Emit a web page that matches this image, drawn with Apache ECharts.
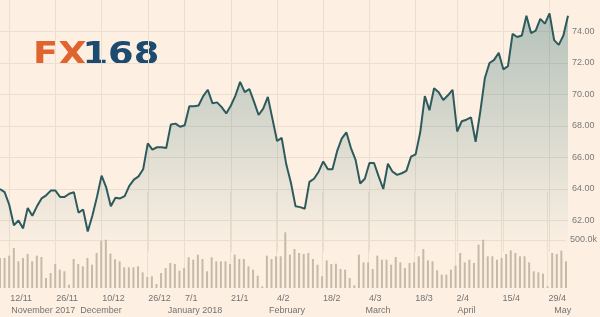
<!DOCTYPE html>
<html><head><meta charset="utf-8">
<script src="https://cdn.jsdelivr.net/npm/echarts@6/dist/echarts.min.js"></script>
<style>html,body{margin:0;padding:0;background:#fdf0e3;}#c{width:600px;height:317px;}</style>
</head><body><div id="c"></div>
<script>
// trading days range (weekdays, minus market holidays)
const startDate = '2017-11-09';
const endDate = '2018-05-04';
const holidays = ['2017-12-25', '2018-01-01', '2018-03-30'];

// daily close
const price = [
  64.0, 63.8, 63.0, 61.7, 62.0, 61.5, 62.8, 62.3, 62.9, 63.4,
  63.6, 63.9, 63.9, 63.5, 63.5, 63.7, 63.8, 62.5, 62.7, 61.3,
  62.3, 63.5, 64.85, 64.1, 62.9, 63.45, 63.4, 63.55, 64.2, 64.6,
  64.8, 65.25, 66.9, 66.5, 66.65, 66.65, 66.6, 68.1, 68.15, 67.95,
  68.05, 69.25, 69.25, 69.3, 69.9, 70.3, 69.45, 69.5, 69.2, 68.8,
  69.3, 69.95, 70.8, 70.15, 70.35, 69.55, 68.7, 69.1, 69.85, 68.45,
  67.05, 67.25, 65.55, 64.4, 62.9, 62.85, 62.75, 64.45, 64.65, 65.1,
  65.75, 65.25, 65.25, 66.4, 67.2, 67.6, 66.6, 65.85, 64.35, 64.65,
  65.65, 65.65, 64.8, 64.0, 65.6, 65.1, 64.9, 65.0, 65.15, 66.05,
  66.2, 67.6, 69.9, 69.0, 70.4, 70.15, 69.65, 69.95, 70.3, 67.65,
  68.3, 68.4, 68.55, 67.0, 68.9, 71.05, 72.0, 72.2, 72.65, 71.6,
  71.8, 73.85, 73.65, 73.75, 75.0, 73.9, 74.05, 74.8, 74.5, 75.15,
  73.45, 73.15, 73.75, 75.0
];

// daily volume, thousands
const volumeK = [
  313, 313, 337, 417, 278, 313, 354, 278, 337, 323,
  104, 156, 250, 191, 174, 35, 302, 250, 226, 313,
  243, 365, 493, 503, 358, 300, 278, 215, 215, 215,
  226, 163, 115, 122, 42, 156, 208, 260, 250, 181,
  208, 320, 295, 347, 302, 174, 320, 278, 278, 278,
  250, 347, 302, 302, 226, 191, 128, 17, 337, 302,
  330, 330, 580, 347, 406, 365, 354, 365, 302, 243,
  122, 288, 250, 253, 198, 191, 104, 28, 347, 267,
  267, 198, 337, 295, 295, 243, 323, 267, 208, 260,
  267, 330, 406, 288, 278, 184, 139, 139, 191, 233,
  365, 267, 295, 260, 451, 503, 330, 330, 295, 313,
  354, 392, 365, 330, 330, 267, 174, 163, 150, 17,
  365, 354, 389, 278
];

const dayTickDates = ['2017-11-13','2017-11-27','2017-12-11','2017-12-26','2018-01-08','2018-01-22','2018-02-05','2018-02-19','2018-03-05','2018-03-19','2018-04-02','2018-04-16','2018-04-30'];
const dayTickLabels = ['12/11','26/11','10/12','26/12','7/1','21/1','4/2','18/2','4/3','18/3','2/4','15/4','29/4'];
const monthTickDates = ['2017-11-13','2017-12-04','2018-01-02','2018-02-01','2018-03-02','2018-04-02','2018-05-01'];
const monthTickLabels = ['November 2017','December','January 2018','February','March','April','May'];

const priceMin = 60, priceMax = 76, priceStep = 2;
const priceLabelMin = 62, priceLabelMax = 74;
const volMax = 1000000, volStep = 500000;
const volLabelValue = 500000, volLabelText = '500.0k';

const categories = [];
for (let d = new Date(startDate + 'T00:00:00Z'); d <= new Date(endDate + 'T00:00:00Z'); d.setUTCDate(d.getUTCDate() + 1)) {
  const wd = d.getUTCDay();
  const s = d.toISOString().slice(0, 10);
  if (wd === 0 || wd === 6 || holidays.includes(s)) continue;
  categories.push(s);
}

const gridColor = '#ecdfcf';
const labelColor = '#737373';
const chart = echarts.init(document.getElementById('c'), null, {renderer: 'canvas'});

chart.setOption({
  animation: false,
  backgroundColor: '#fdf0e3',
  grid: [
    {left: 0, right: 32, top: -4, height: 256},
    {left: 0, right: 32, top: 192, height: 96}
  ],
  xAxis: [
    {
      type: 'category', gridIndex: 0, data: categories, boundaryGap: false,
      axisLine: {show: false}, axisTick: {show: false}, axisLabel: {show: false},
      splitLine: {show: true, interval: (i, v) => dayTickDates.includes(v), lineStyle: {color: gridColor, width: 1}}
    },
    {
      type: 'category', gridIndex: 1, data: categories, boundaryGap: false, position: 'bottom',
      axisLine: {show: false}, axisTick: {show: false},
      axisLabel: {
        interval: (i, v) => dayTickDates.includes(v),
        formatter: v => dayTickLabels[dayTickDates.indexOf(v)] || '',
        align: 'left', fontSize: 9, color: labelColor, margin: 6, padding: [0, 0, 0, 1],
        fontFamily: 'Liberation Sans', hideOverlap: false
      },
      splitLine: {show: true, interval: (i, v) => dayTickDates.includes(v), lineStyle: {color: gridColor, width: 1}}
    },
    {
      type: 'category', gridIndex: 1, data: categories, boundaryGap: false, position: 'bottom', offset: 12,
      axisLine: {show: false}, axisTick: {show: false},
      axisLabel: {
        interval: (i, v) => monthTickDates.includes(v),
        formatter: v => monthTickLabels[monthTickDates.indexOf(v)] || '',
        align: 'left', fontSize: 9, color: labelColor, margin: 6, padding: [0, 0, 0, 2],
        fontFamily: 'Liberation Sans', hideOverlap: false, showMinLabel: true
      },
      splitLine: {show: false}
    }
  ],
  yAxis: [
    {
      type: 'value', gridIndex: 0, position: 'right', min: priceMin, max: priceMax, interval: priceStep,
      axisLine: {show: false}, axisTick: {show: false},
      axisLabel: {
        fontSize: 9, color: '#7a7a7a', margin: 4, fontFamily: 'Liberation Sans',
        formatter: v => (v < priceLabelMin || v > priceLabelMax) ? '' : v.toFixed(2)
      },
      splitLine: {show: true, showMinLine: false, showMaxLine: false, lineStyle: {color: gridColor, width: 1}}
    },
    {
      type: 'value', gridIndex: 1, position: 'right', min: 0, max: volMax, interval: volStep,
      axisLine: {show: false}, axisTick: {show: false},
      axisLabel: {
        fontSize: 9, color: '#7a7a7a', margin: 4, fontFamily: 'Liberation Sans',
        formatter: v => v === volLabelValue ? volLabelText : ''
      },
      splitLine: {show: true, showMinLine: false, showMaxLine: false, lineStyle: {color: gridColor, width: 1}}
    }
  ],
  series: [
    {
      type: 'line', xAxisIndex: 0, yAxisIndex: 0, data: price, symbol: 'none', z: 3,
      lineStyle: {width: 2, color: '#2d5b5d'},
      areaStyle: {
        origin: 'start',
        color: new echarts.graphic.LinearGradient(0, 0, 0, 250, [
          {offset: 0, color: 'rgba(45,108,110,0.52)'},
          {offset: 1, color: 'rgba(45,108,110,0.0)'}
        ], true)
      }
    },
    {
      type: 'bar', xAxisIndex: 1, yAxisIndex: 1, data: volumeK.map(v => v * 1000),
      barWidth: 2, z: 4, itemStyle: {color: '#c6b9a7'}
    }
  ],
  graphic: [
    {
      type: 'group', x: 33, y: 56, scaleX: 1.15,
      children: [
        {type: 'text', x: 0, y: 0, style: {text: 'FX', fill: '#e0642f', font: 'bold 32px "DejaVu Sans"', verticalAlign: 'middle'}},
        {type: 'text', x: 43, y: 0, style: {text: '168', fill: '#1c4b6f', font: 'bold 32px "DejaVu Sans"', verticalAlign: 'middle'}}
      ]
    }
  ]
});
</script></body></html>
